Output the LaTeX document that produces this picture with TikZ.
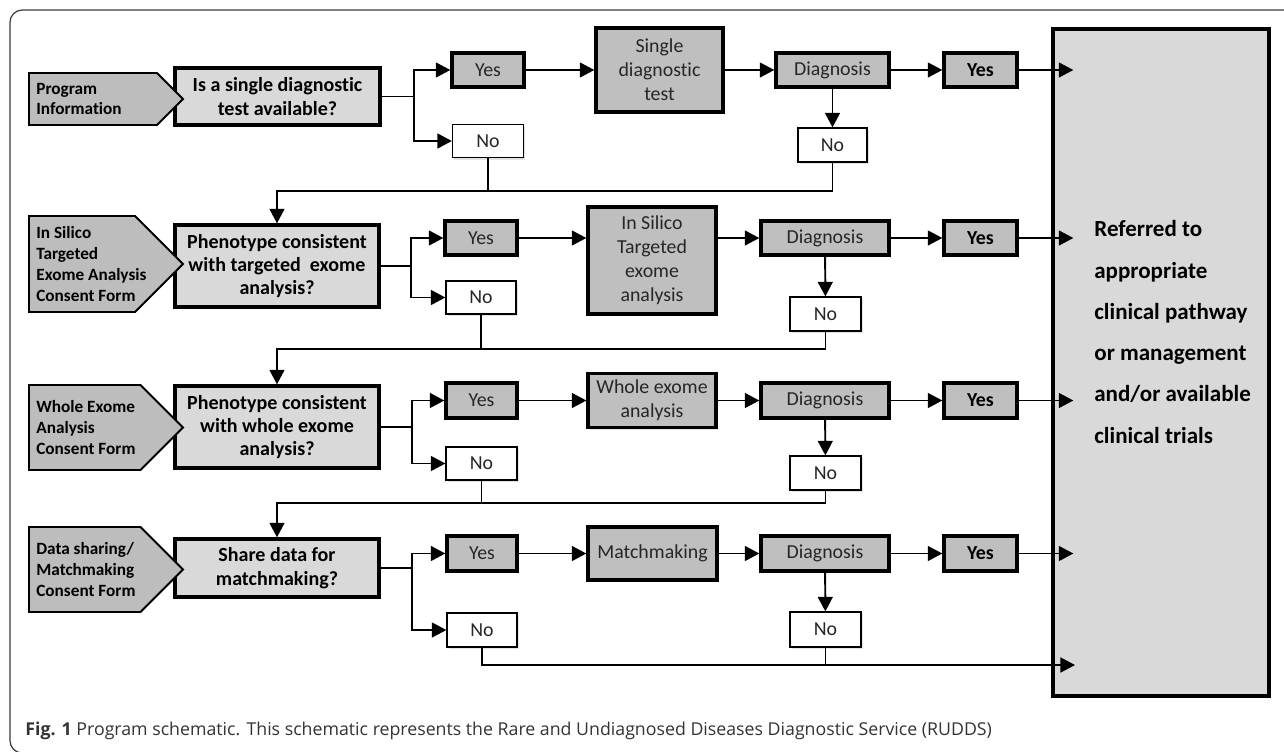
\documentclass[tikz,border=0pt]{standalone}
\usepackage{fontspec}
\setmainfont{Carlito}[Ligatures=CommonOff]
\newfontfamily\captionfont{Open Sans}[Ligatures=CommonOff]
\usetikzlibrary{arrows.meta, positioning, calc, shadows}
\definecolor{boxGray}{HTML}{BFBFBF}
\definecolor{lightGray}{HTML}{D9D9D9}
\definecolor{tagGray}{HTML}{BDBDBD}
\definecolor{inkDark}{HTML}{262626}
\definecolor{frameInk}{HTML}{3A3A3A}
\definecolor{captionInk}{HTML}{333333}
\tikzset{
  sz/.style 2 args={minimum width=#1*0.02cm, minimum height=#2*0.02cm},
  boxshadow/.style={drop shadow={shadow xshift=1pt, shadow yshift=-1.3pt, opacity=0.22}},
  qbox/.style={draw=black, line width=1.9pt, fill=lightGray, boxshadow, align=center,
               inner sep=2pt, font=\fontsize{11.4}{13.3}\selectfont\bfseries},
  graybox/.style={draw=black, line width=1.9pt, fill=boxGray, boxshadow, align=center,
                  inner sep=2pt, text=inkDark, font=\fontsize{11.3}{13.6}\selectfont},
  yesbold/.style={graybox, text=black, font=\fontsize{11.3}{13.6}\selectfont\bfseries},
  nobox/.style={draw=black, line width=0.7pt, fill=white, boxshadow, text=inkDark,
                font=\fontsize{11.3}{13.6}\selectfont},
  bigbox/.style={draw=black, line width=1.9pt, fill=lightGray, boxshadow},
  biglabel/.style={anchor=west, inner sep=0pt, align=left, font=\fontsize{13.1}{23.5}\selectfont\bfseries},
  tag/.style={draw=black, line width=1.1pt, fill=tagGray},
  taglabel/.style={anchor=west, inner sep=0pt, align=left, font=\fontsize{9.8}{11.9}\selectfont\bfseries},
  arrow/.style={-{Triangle[length=8.3pt, width=8.5pt]}, line width=1.1pt},
  link/.style={line width=1.1pt},
}

\begin{document}
\begin{tikzpicture}[x=0.02cm, y=-0.02cm]
\useasboundingbox (0,0) rectangle (1284,751);
% outer frame
\draw[frameInk, line width=0.7pt, rounded corners=7pt] (1300,10) -- (10,10) -- (10,753) -- (1300,753);

% outcome box
\node[bigbox, sz={216}{667}] (big) at (1161,362.5) {};
\node[biglabel] (bigtext) at (1094,332) {Referred to\\appropriate\\clinical pathway\\or management\\and/or available\\clinical trials};

% row 1
\node[qbox, sz={205}{57}] (q1) at (277.5,96.5) {Is a single diagnostic\\test available?};
\node[graybox, sz={72}{34}] (yes1) at (488,70) {Yes};
\node[nobox, sz={71}{33}] (no1) at (488,141) {No};
\node[graybox, sz={127}{84}] (test1) at (659.5,70) {Single\\diagnostic\\test};
\node[graybox, sz={113}{34}] (diag1) at (832.5,70) {Diagnosis};
\node[nobox, sz={69}{34}] (nob1) at (832.5,145) {No};
\node[yesbold, sz={73}{34}] (yesb1) at (980.5,70) {Yes};

% row 2
\node[qbox, sz={204}{82}] (q2) at (277,266) {Phenotype consistent\\with targeted~ exome\\analysis?};
\node[graybox, sz={72}{34}] (yes2) at (481,238) {Yes};
\node[nobox, sz={70}{33}] (no2) at (481,297.5) {No};
\node[graybox, sz={128}{107}] (test2) at (652,260.5) {In Silico\\Targeted\\exome\\analysis};
\node[graybox, sz={128}{34}] (diag2) at (825,238) {Diagnosis};
\node[nobox, sz={71}{34}] (nob2) at (825.5,314) {No};
\node[yesbold, sz={73}{34}] (yesb2) at (980.5,238) {Yes};

% row 3
\node[qbox, sz={204}{82}] (q3) at (277,427) {Phenotype consistent\\with whole exome\\analysis?};
\node[graybox, sz={71}{35}] (yes3) at (481.5,400.5) {Yes};
\node[nobox, sz={71}{33}] (no3) at (481.5,463.5) {No};
\node[graybox, sz={128}{54}] (test3) at (652,400.5) {Whole exome\\analysis};
\node[graybox, sz={128}{35}] (diag3) at (825,400.5) {Diagnosis};
\node[nobox, sz={71}{34}] (nob3) at (825.5,473) {No};
\node[yesbold, sz={73}{35}] (yesb3) at (980.5,400.5) {Yes};

% row 4
\node[qbox, sz={204}{58}] (q4) at (277,568) {Share data for\\matchmaking?};
\node[graybox, sz={70}{35}] (yes4) at (482,553.5) {Yes};
\node[nobox, sz={70}{34}] (no4) at (482,630) {No};
\node[graybox, sz={129}{53}] (test4) at (652.5,553.5) {Matchmaking};
\node[graybox, sz={128}{35}] (diag4) at (825,553.5) {Diagnosis};
\node[nobox, sz={71}{35}] (nob4) at (825.5,629.5) {No};
\node[yesbold, sz={73}{35}] (yesb4) at (980.5,553.5) {Yes};

% consent tags
\draw[tag] (29,73) -- (157,73) -- (183,99) -- (157,125) -- (29,125) -- cycle;
\node[taglabel] (tag1) at (36,99) {Program\\Information};
\draw[tag] (29,216) -- (135,216) -- (183,264) -- (135,312) -- (29,312) -- cycle;
\node[taglabel] (tag2) at (36,264) {In Silico\\Targeted\\Exome Analysis\\Consent Form};
\draw[tag] (29,385) -- (140.5,385) -- (183,427.5) -- (140.5,470) -- (29,470) -- cycle;
\node[taglabel] (tag3) at (36,427.5) {Whole Exome\\Analysis\\Consent Form};
\draw[tag] (29,527) -- (140.5,527) -- (183,569.5) -- (140.5,612) -- (29,612) -- cycle;
\node[taglabel] (tag4) at (36,569.5) {Data sharing/\\Matchmaking\\Consent Form};

% junctions and return lines
\coordinate (j1) at (414,96.5);
\coordinate (j2) at (411,266);
\coordinate (j3) at (412,427);
\coordinate (j4) at (412,568);
\coordinate (r1) at (277,191);
\coordinate (r2) at (277,349);
\coordinate (r3) at (277,503);
\coordinate (r4) at (1075,665);

\foreach \r in {1,2,3,4} {
  \draw[link] (q\r.east) -- (j\r);
  \draw[arrow] (j\r) |- (yes\r);
  \draw[arrow] (j\r) |- (no\r);
  \draw[arrow] (yes\r.east) -- (yes\r.east -| test\r.west);
  \draw[arrow] (diag\r.west -| test\r.east) -- (diag\r.west);
  \draw[arrow] (diag\r) -- (nob\r);
  \draw[arrow] (diag\r.east) -- (yesb\r.west);
  \draw[arrow] (yesb\r.east) -- ($(big.west |- yesb\r.east)+(22,0)$);
}
\foreach \r/\n in {1/2,2/3,3/4} {
  \draw[arrow] (nob\r.south) |- (r\r) -- (q\n.north);
  \draw[link] (no\r.south) -- (no\r.south |- r\r);
}
\draw[arrow] (no4.south) |- (r4);
\draw[link] (nob4.south) -- (nob4.south |- r4);

% caption
\node[anchor=base west, inner sep=0pt, text=captionInk, font=\captionfont\fontsize{10.1}{12}\selectfont] (caption) at (25,735)
  {\textbf{Fig. 1} Program schematic. This schematic represents the Rare and Undiagnosed Diseases Diagnostic Service (RUDDS)};
\end{tikzpicture}
\end{document}
